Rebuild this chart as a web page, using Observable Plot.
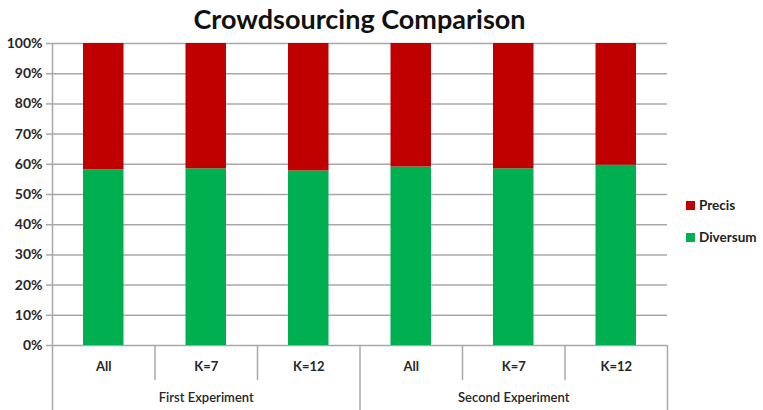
<!DOCTYPE html>
<html>
<head>
<meta charset="utf-8">
<script src="https://cdn.jsdelivr.net/npm/d3@7"></script>
<script src="https://cdn.jsdelivr.net/npm/@observablehq/plot@0.6"></script>
<style>
  html, body { margin: 0; padding: 0; background: #fff; }
  #wrap { position: relative; width: 763px; height: 410px; font-family: Lato, "Open Sans", sans-serif; }
  #title { position: absolute; left: 0; width: 719px; top: 2px; text-align: center; font-size: 27px; font-weight: 700; color: #111; }
  #legend { position: absolute; left: 686px; top: 197px; font-size: 13.5px; font-weight: 700; color: #222; }
  #legend .row { display: flex; align-items: center; height: 16px; margin-bottom: 16px; }
  #legend .sw { width: 9px; height: 9px; margin-right: 4px; }
  #chart { position: absolute; left: 0; top: 0; }
</style>
</head>
<body>
<div id="wrap">
  <div id="chart"></div>
  <div id="title">Crowdsourcing Comparison</div>
  <div id="legend"></div>
</div>
<script>
// Experiments and the setting used in each column
const groups = ["First Experiment", "Second Experiment"];
const categories = ["All", "K=7", "K=12", "All", "K=7", "K=12"];
const groupIndex = [0, 0, 0, 1, 1, 1];

// Share of Diversum in each column (%); Precis takes the rest up to 100%
const diversum = [58.2, 58.5, 57.8, 59.1, 58.5, 59.7];

const series = ["Precis", "Diversum"];
const colors = ["#C00000", "#00B050"];
const yTicks = [0, 10, 20, 30, 40, 50, 60, 70, 80, 90, 100];

// Stacked segments, one per series per column
const rows = [];
categories.forEach((c, i) => {
  rows.push({ i, series: "Diversum", y1: 0, y2: diversum[i] });
  rows.push({ i, series: "Precis", y1: diversum[i], y2: 100 });
});

// Divider positions between columns and between experiments
const minorDividers = [1, 2, 4, 5];
const majorDividers = [3, 6];
const labels = categories.map((c, i) => ({ pos: i + 0.5, text: c }));
const groupLabels = groups.map((g, k) => ({ pos: k * 3 + 1.5, text: g }));

const grey = "#a8a8a8";
const plot = Plot.plot({
  width: 763,
  height: 410,
  marginLeft: 52,
  marginRight: 96,
  marginTop: 43,
  marginBottom: 65,
  style: { fontFamily: "Lato, 'Open Sans', sans-serif", background: "transparent" },
  x: { domain: [0, 6], axis: null },
  y: { domain: [0, 100], axis: null },
  color: { domain: series, range: colors },
  marks: [
    Plot.gridY(yTicks, { stroke: grey, strokeOpacity: 1, strokeWidth: 1.5 }),
    Plot.rect(rows, {
      x1: d => d.i, x2: d => d.i + 1, y1: "y1", y2: "y2",
      fill: "series", insetLeft: 31, insetRight: 31
    }),
    Plot.axisY(yTicks, {
      tickFormat: d => d + "%", tickSize: 6, tickPadding: 4,
      stroke: grey, strokeWidth: 1.5, fill: "#262626",
      fontSize: 14, fontWeight: 700, label: null
    }),
    Plot.ruleX([0], { stroke: grey, strokeWidth: 1.5, insetBottom: -65 }),
    Plot.ruleX(majorDividers, { y1: 0, y2: 0, stroke: grey, strokeWidth: 1.5, insetBottom: -65 }),
    Plot.ruleX(minorDividers, { y1: 0, y2: 0, stroke: grey, strokeWidth: 1.5, insetBottom: -35 }),
    Plot.text(labels, {
      x: "pos", text: "text", frameAnchor: "bottom", dy: 25,
      fontSize: 13, fontWeight: 700, fill: "#262626"
    }),
    Plot.text(groupLabels, {
      x: "pos", text: "text", frameAnchor: "bottom", dy: 56,
      fontSize: 13, fontWeight: 600, fill: "#262626"
    })
  ]
});
document.getElementById("chart").appendChild(plot);

// Legend
const legend = document.getElementById("legend");
series.forEach((s, k) => {
  const row = document.createElement("div");
  row.className = "row";
  row.innerHTML = `<span class="sw" style="background:${colors[k]}"></span><span>${s}</span>`;
  legend.appendChild(row);
});
</script>
</body>
</html>
